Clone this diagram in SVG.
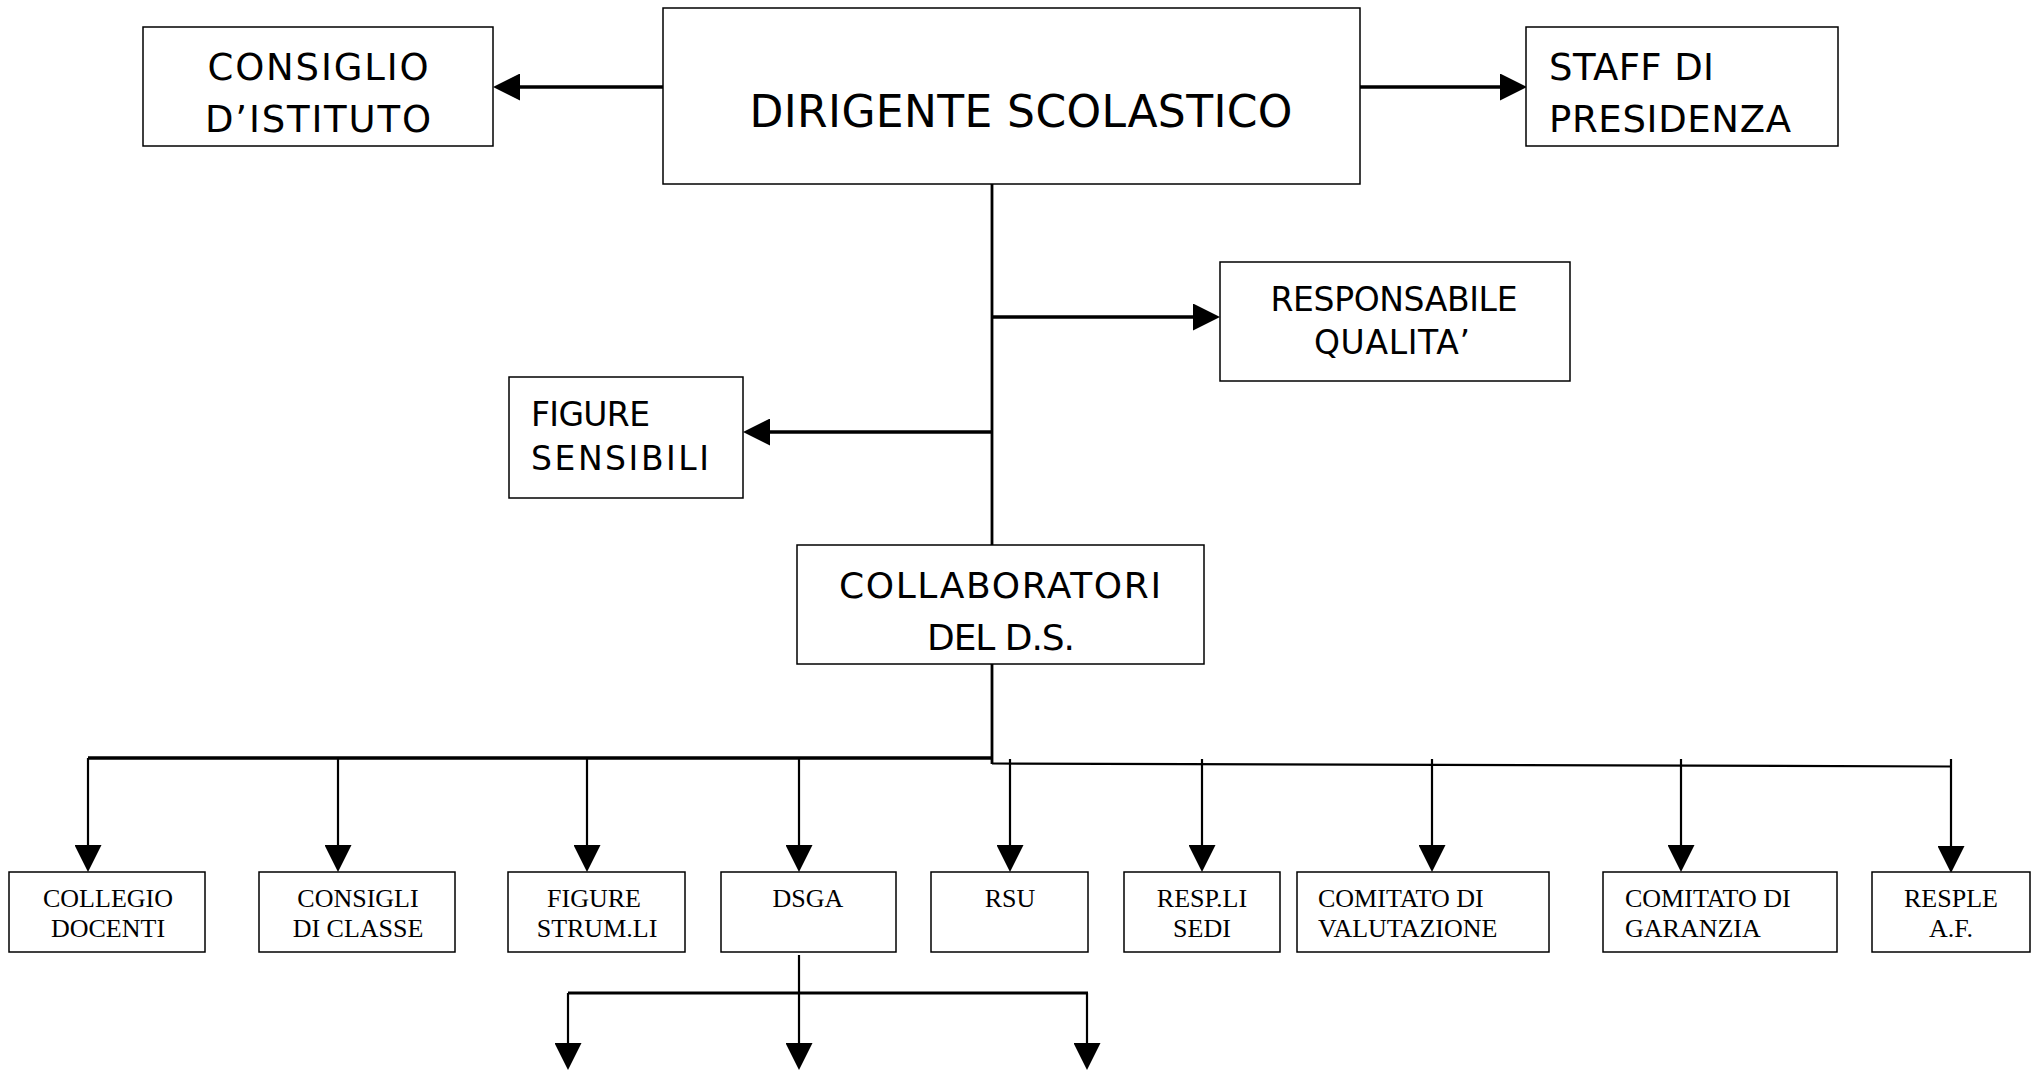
<svg xmlns="http://www.w3.org/2000/svg" width="2044" height="1073" viewBox="0 0 2044 1073">
<style>
.box{fill:#fff;stroke:#000;stroke-width:1.5}
.hand{font-family:'Comic Sans MS','DejaVu Sans',sans-serif;fill:#000}
.serif{font-family:'Times New Roman','Liberation Serif',serif;font-size:26px;fill:#000}
.c{text-anchor:middle}
.ln{fill:none;stroke:#000;stroke-width:2.2}
.thick{stroke-width:3.6}
.arr{marker-end:url(#ah)}
</style>
<defs>
<marker id="ah" viewBox="0 0 27 27" refX="0" refY="13.5" markerWidth="27" markerHeight="27" markerUnits="userSpaceOnUse" orient="auto">
<path d="M0,0 L27,13.5 L0,27 Z" fill="#000"/>
</marker>
</defs>
<rect width="2044" height="1073" fill="#fff"/>

<g id="connectors">
<line class="ln thick arr" x1="663" y1="87" x2="520" y2="87"/>
<line class="ln thick arr" x1="1360" y1="87" x2="1500" y2="87"/>
<line class="ln" style="stroke-width:2.8" x1="992" y1="184" x2="992" y2="545"/>
<line class="ln thick arr" x1="992" y1="317" x2="1193" y2="317"/>
<line class="ln thick arr" x1="992" y1="432" x2="770" y2="432"/>
<polyline class="ln" style="stroke-width:2.8" points="992,664 992,764"/>
<line class="ln thick" x1="88" y1="758" x2="992" y2="758"/>
<line class="ln" x1="992" y1="763.5" x2="1952" y2="766.5"/>
<line class="ln arr" x1="88" y1="758" x2="88" y2="845"/>
<line class="ln arr" x1="338" y1="758" x2="338" y2="845"/>
<line class="ln arr" x1="587" y1="758" x2="587" y2="845"/>
<line class="ln arr" x1="799" y1="758" x2="799" y2="845"/>
<line class="ln arr" x1="1010" y1="759" x2="1010" y2="845"/>
<line class="ln arr" x1="1202" y1="759" x2="1202" y2="845"/>
<line class="ln arr" x1="1432" y1="759" x2="1432" y2="845"/>
<line class="ln arr" x1="1681" y1="759" x2="1681" y2="845"/>
<line class="ln arr" x1="1951" y1="759" x2="1951" y2="846"/>
<line class="ln" x1="799" y1="955" x2="799" y2="993"/>
<line class="ln" style="stroke-width:3" x1="568" y1="993" x2="1088" y2="993"/>
<line class="ln arr" x1="568" y1="993" x2="568" y2="1043"/>
<line class="ln arr" x1="799" y1="993" x2="799" y2="1043"/>
<line class="ln arr" x1="1087" y1="993" x2="1087" y2="1043"/>
</g>

<g id="dirigente">
<rect class="box" x="663" y="8" width="697" height="176"/>
<text class="hand c" x="1021" y="127" font-size="44" textLength="543">DIRIGENTE SCOLASTICO</text>
</g>
<g id="consiglio-istituto">
<rect class="box" x="143" y="27" width="350" height="119"/>
<text class="hand c" x="318" y="80" font-size="37" textLength="221">CONSIGLIO</text>
<text class="hand c" x="318" y="132" font-size="37" textLength="226">D’ISTITUTO</text>
</g>
<g id="staff">
<rect class="box" x="1526" y="27" width="312" height="119"/>
<text class="hand" x="1549" y="80" font-size="37" textLength="165">STAFF DI</text>
<text class="hand" x="1549" y="132" font-size="37" textLength="242">PRESIDENZA</text>
</g>
<g id="responsabile-qualita">
<rect class="box" x="1220" y="262" width="350" height="119"/>
<text class="hand c" x="1394" y="311" font-size="33" textLength="247">RESPONSABILE</text>
<text class="hand c" x="1392" y="354" font-size="33" textLength="156">QUALITA’</text>
</g>
<g id="figure-sensibili">
<rect class="box" x="509" y="377" width="234" height="121"/>
<text class="hand" x="531" y="426" font-size="33" textLength="119">FIGURE</text>
<text class="hand" x="531" y="470" font-size="33" textLength="178">SENSIBILI</text>
</g>
<g id="collaboratori">
<rect class="box" x="797" y="545" width="407" height="119"/>
<text class="hand c" x="1000" y="598" font-size="36" textLength="322">COLLABORATORI</text>
<text class="hand c" x="1001" y="650" font-size="36" textLength="148">DEL D.S.</text>
</g>

<g id="collegio-docenti">
<rect class="box" x="9" y="872" width="196" height="80"/>
<text class="serif c" x="108" y="907">COLLEGIO</text>
<text class="serif c" x="108" y="937">DOCENTI</text>
</g>
<g id="consigli-classe">
<rect class="box" x="259" y="872" width="196" height="80"/>
<text class="serif c" x="358" y="907">CONSIGLI</text>
<text class="serif c" x="358" y="937">DI CLASSE</text>
</g>
<g id="figure-strumentali">
<rect class="box" x="508" y="872" width="177" height="80"/>
<text class="serif c" x="594" y="907">FIGURE</text>
<text class="serif c" x="597" y="937">STRUM.LI</text>
</g>
<g id="dsga">
<rect class="box" x="721" y="872" width="175" height="80"/>
<text class="serif c" x="808" y="907">DSGA</text>
</g>
<g id="rsu">
<rect class="box" x="931" y="872" width="157" height="80"/>
<text class="serif c" x="1010" y="907">RSU</text>
</g>
<g id="resp-sedi">
<rect class="box" x="1124" y="872" width="156" height="80"/>
<text class="serif c" x="1202" y="907">RESP.LI</text>
<text class="serif c" x="1202" y="937">SEDI</text>
</g>
<g id="comitato-valutazione">
<rect class="box" x="1297" y="872" width="252" height="80"/>
<text class="serif" x="1318" y="907">COMITATO DI</text>
<text class="serif" x="1318" y="937">VALUTAZIONE</text>
</g>
<g id="comitato-garanzia">
<rect class="box" x="1603" y="872" width="234" height="80"/>
<text class="serif" x="1625" y="907">COMITATO DI</text>
<text class="serif" x="1625" y="937">GARANZIA</text>
</g>
<g id="resple-af">
<rect class="box" x="1872" y="872" width="158" height="80"/>
<text class="serif c" x="1951" y="907">RESPLE</text>
<text class="serif c" x="1951" y="937">A.F.</text>
</g>
</svg>
